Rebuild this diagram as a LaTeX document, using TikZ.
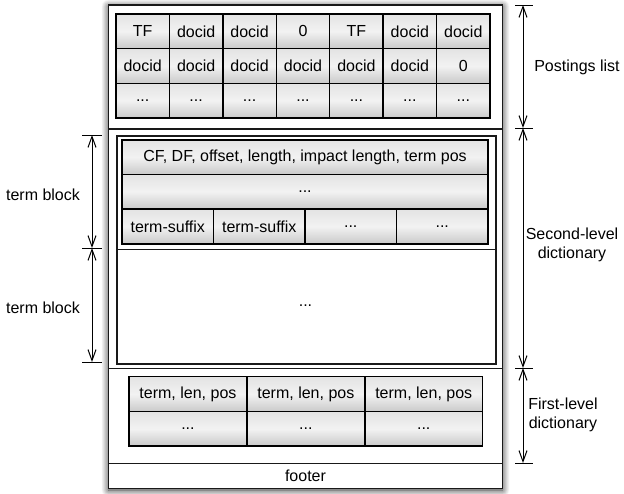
\documentclass[tikz,border=0pt]{standalone}
\usepackage{fontspec}
\setmainfont{Liberation Sans}
\usetikzlibrary{arrows.meta,shadows.blur}
\begin{document}
\begin{tikzpicture}[x=1pt,y=-1pt,
  every node/.style={font=\fontsize{16}{18.5}\selectfont, inner sep=0pt},
  cell/.style={draw=black, line width=1.4pt, top color=gray!22, bottom color=gray!42, middle color=gray!10, anchor=north west, outer sep=0pt},
  frame/.style={draw=black!90, line width=1.6pt},
  dim/.style={line width=1pt, {Straight Barb[length=11pt,width=8pt]}-{Straight Barb[length=11pt,width=8pt]}},
  tick/.style={line width=1pt},
  lbl/.style={align=center}]
\useasboundingbox (0,0) rectangle (624,493);

% outer box with shadow
\node[fill=white, blur shadow={shadow xshift=0pt, shadow yshift=-1.5pt, shadow blur radius=7pt, shadow blur steps=12, shadow opacity=85}, anchor=north west, minimum width=394pt, minimum height=483.5pt, outer sep=0pt] (outer) at (108.5,5) {};
\draw[frame] (outer.north west) rectangle (outer.south east);

\draw[frame] (108.5,129) -- (502.5,129);
\draw[frame] (108.5,368.5) -- (502.5,368.5);
\draw[frame] (108.5,463.3) -- (502.5,463.3);
\node (footer) at (305.5,476) {footer};

% postings table
\def\pw{53.43}
\def\ph{34.67}
\foreach \t [count=\i from 0] in {TF,docid,docid,0,TF,docid,docid}
  \node[cell, minimum width=\pw pt, minimum height=\ph pt] (pa\i) at ({116+\i*\pw},14) {\t};
\foreach \t [count=\i from 0] in {docid,docid,docid,docid,docid,docid,0}
  \node[cell, minimum width=\pw pt, minimum height=\ph pt] (pb\i) at ({116+\i*\pw},{14+\ph}) {\t};
\foreach \i in {0,1,2,3,4,5,6}
  \node[cell, minimum width=\pw pt, minimum height=\ph pt] (pc\i) at ({116+\i*\pw},{14+2*\ph}) {...};

% second level dictionary
\node[frame, anchor=north west, minimum width=379pt, minimum height=228.3pt] (sld) at (116,135) {};
\draw[frame] (116,249.3) -- (495,249.3);
\node (dots2) at (305.5,306) {...};
\node[cell, minimum width=366pt, minimum height=34.3pt] (hdr) at (122,140) {CF, DF, offset, length, impact length, term pos};
\node[cell, minimum width=366pt, minimum height=34.7pt] (hdr2) at (122,174.3) {...};
\node[cell, minimum width=91.5pt, minimum height=35pt] (ts0) at (122,209) {term-suffix};
\node[cell, minimum width=91.5pt, minimum height=35pt] (ts1) at (213.5,209) {term-suffix};
\node[cell, minimum width=91.5pt, minimum height=35pt] (ts2) at (305,209) {...};
\node[cell, minimum width=91.5pt, minimum height=35pt] (ts3) at (396.5,209) {...};

% first level dictionary
\foreach \i in {0,1,2} {
  \node[cell, minimum width=117.9pt, minimum height=35pt] (fa\i) at ({129+\i*117.9},376.7) {term, len, pos};
  \node[cell, minimum width=117.9pt, minimum height=34.3pt] (fb\i) at ({129+\i*117.9},411.7) {...};
}

% right dimensions
\coordinate (r1) at (523,5);
\coordinate (r2) at (523,128);
\coordinate (r3) at (523,368);
\coordinate (r4) at (523,463);
\foreach \c in {r1,r2,r3,r4}
  \draw[tick] ([xshift=-8pt]\c) -- ([xshift=10pt]\c);
\draw[dim] (r1) -- (r2);
\draw[dim] (r2) -- (r3);
\draw[dim] (r3) -- (r4);
\node[lbl] (lp) at (577,67) {Postings list};
\node[lbl] (ls) at (572,245) {Second-level\\dictionary};
\node[lbl] (lf) at (563,415) {First-level\\dictionary};

% left dimensions
\coordinate (l1) at (92,135);
\coordinate (l2) at (92,248);
\coordinate (l3) at (92,362);
\foreach \c in {l1,l2,l3}
  \draw[tick] ([xshift=-10pt]\c) -- ([xshift=10pt]\c);
\draw[dim] (l1) -- (l2);
\draw[dim] (l2) -- (l3);
\node (tb1) at (43,195) {term block};
\node (tb2) at (43,308) {term block};
\end{tikzpicture}
\end{document}
